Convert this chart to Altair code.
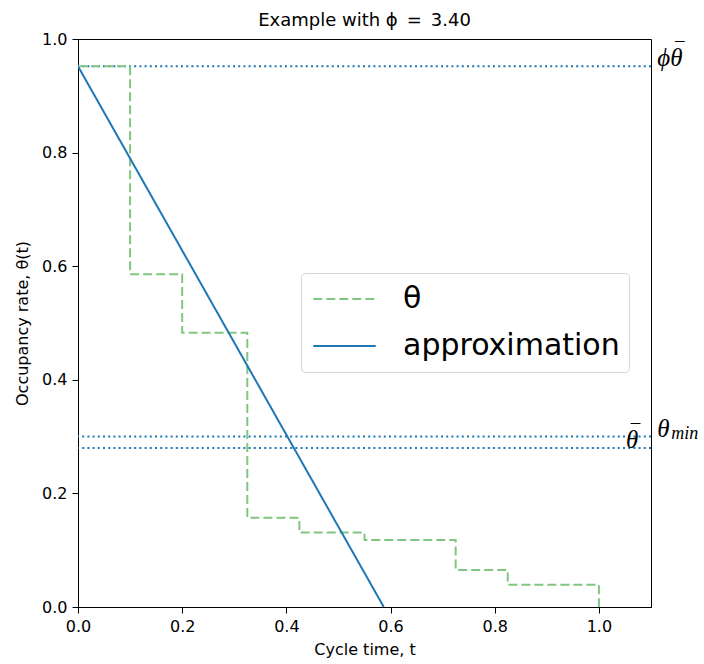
import altair as alt
import pandas as pd

# Occupancy-rate step profile over one cycle
step_t = [0.0, 0.1, 0.2, 0.325, 0.425, 0.55, 0.725, 0.825, 1.0]
step_theta = [0.952, 0.586, 0.483, 0.157, 0.131, 0.118, 0.065, 0.039, 0.0]

# Linear approximation of the profile
approx_t = [0.0, 0.587]
approx_theta = [0.952, 0.0]

# Reference levels: phi*theta_bar, theta_min, theta_bar
ref_levels = [0.952, 0.30, 0.28]

series_names = ["θ", "approximation"]
series_colors = ["#80c680", "#1f77b4"]

lines_df = pd.concat([
    pd.DataFrame({"t": step_t, "theta": step_theta, "series": series_names[0]}),
    pd.DataFrame({"t": approx_t, "theta": approx_theta, "series": series_names[1]}),
])
ref_df = pd.DataFrame({"level": ref_levels})

x_scale = alt.Scale(domain=[0, 1.1], nice=False, zero=False)
y_scale = alt.Scale(domain=[0, 1.0], nice=False)

tick_values = [0, 0.2, 0.4, 0.6, 0.8, 1.0]
x_axis = alt.Axis(values=tick_values, format=".1f", title="Cycle time, t",
                  titlePadding=7, labelFlush=False)
y_axis = alt.Axis(values=tick_values, format=".1f", title="Occupancy rate, θ(t)",
                  titlePadding=11, labelFlush=False)

color_scale = alt.Scale(domain=series_names, range=series_colors)
dash_scale = alt.Scale(domain=series_names, range=[[9, 4], [1, 0]])

legend = alt.Legend(
    title=None, orient="none", legendX=223, legendY=234, direction="vertical",
    labelFontSize=30, labelFont="DejaVu Sans", labelColor="black", labelOffset=26,
    labelLimit=1000,
    symbolType="stroke", symbolSize=3900, symbolStrokeWidth=2, symbolOffset=2,
    strokeColor="#d6d6d6", cornerRadius=4, fillColor="white",
    padding=9, rowPadding=13, clipHeight=34,
)


def series_line(name, **mark_kw):
    return alt.Chart(lines_df).transform_filter(
        alt.datum.series == name
    ).mark_line(strokeWidth=2, clip=True, **mark_kw).encode(
        x=alt.X("t:Q", scale=x_scale, axis=x_axis),
        y=alt.Y("theta:Q", scale=y_scale, axis=y_axis),
        color=alt.Color("series:N", scale=color_scale, legend=legend, sort=series_names),
        strokeDash=alt.StrokeDash("series:N", scale=dash_scale, legend=legend, sort=series_names),
    )


step_line = series_line(series_names[0], interpolate="step-after")
approx_line = series_line(series_names[1])

refs = alt.Chart(ref_df).mark_rule(color="#1f77b4", strokeWidth=2, strokeDash=[2, 3.2]).encode(
    y=alt.Y("level:Q", scale=y_scale)
)

# Level annotations beside the reference lines
label_df = pd.DataFrame({
    "x": [1.112, 1.112, 1.052],
    "y": [ref_levels[0], ref_levels[1], ref_levels[2]],
    "text": ["ϕθ", "θ", "θ"],
})
serif = dict(font="Liberation Serif", fontStyle="italic", color="black", baseline="alphabetic")


def annot(df, text_size, **kw):
    return alt.Chart(df).mark_text(fontSize=text_size, **serif, **kw).encode(
        x=alt.X("x:Q", scale=x_scale), y=alt.Y("y:Q", scale=y_scale), text="text:N"
    )


labels = annot(label_df, 25, align="left")
sub_label = annot(label_df.iloc[[1]].assign(text="min"), 18, align="left", dx=14, dy=2)
bar_outer = annot(label_df.iloc[[0]].assign(text="¯"), 19, align="center", dx=21, dy=-11)
bar_inner = annot(label_df.iloc[[2]].assign(text="¯"), 19, align="center", dx=8, dy=-11)

chart = alt.layer(refs, step_line, approx_line, labels, sub_label, bar_outer, bar_inner).properties(
    width=573, height=568,
    title=alt.Title("Example with ϕ\u2002=\u20023.40", fontSize=18, font="DejaVu Sans",
                    fontWeight="normal", offset=1, color="black"),
    autosize=alt.AutoSizeParams(type="none"),
    padding={"left": 78, "top": 39, "right": 53, "bottom": 57},
).configure_view(
    stroke="black", strokeWidth=1
).configure_axis(
    grid=False, domainColor="black", tickColor="black", labelColor="black",
    titleColor="black", labelFont="DejaVu Sans", titleFont="DejaVu Sans",
    labelFontSize=16, titleFontSize=16, titleFontWeight="normal",
    tickSize=6, labelPadding=5, domainWidth=1, tickWidth=1,
)

chart.save("out.html", embed_options={"renderer": "svg", "actions": False})
